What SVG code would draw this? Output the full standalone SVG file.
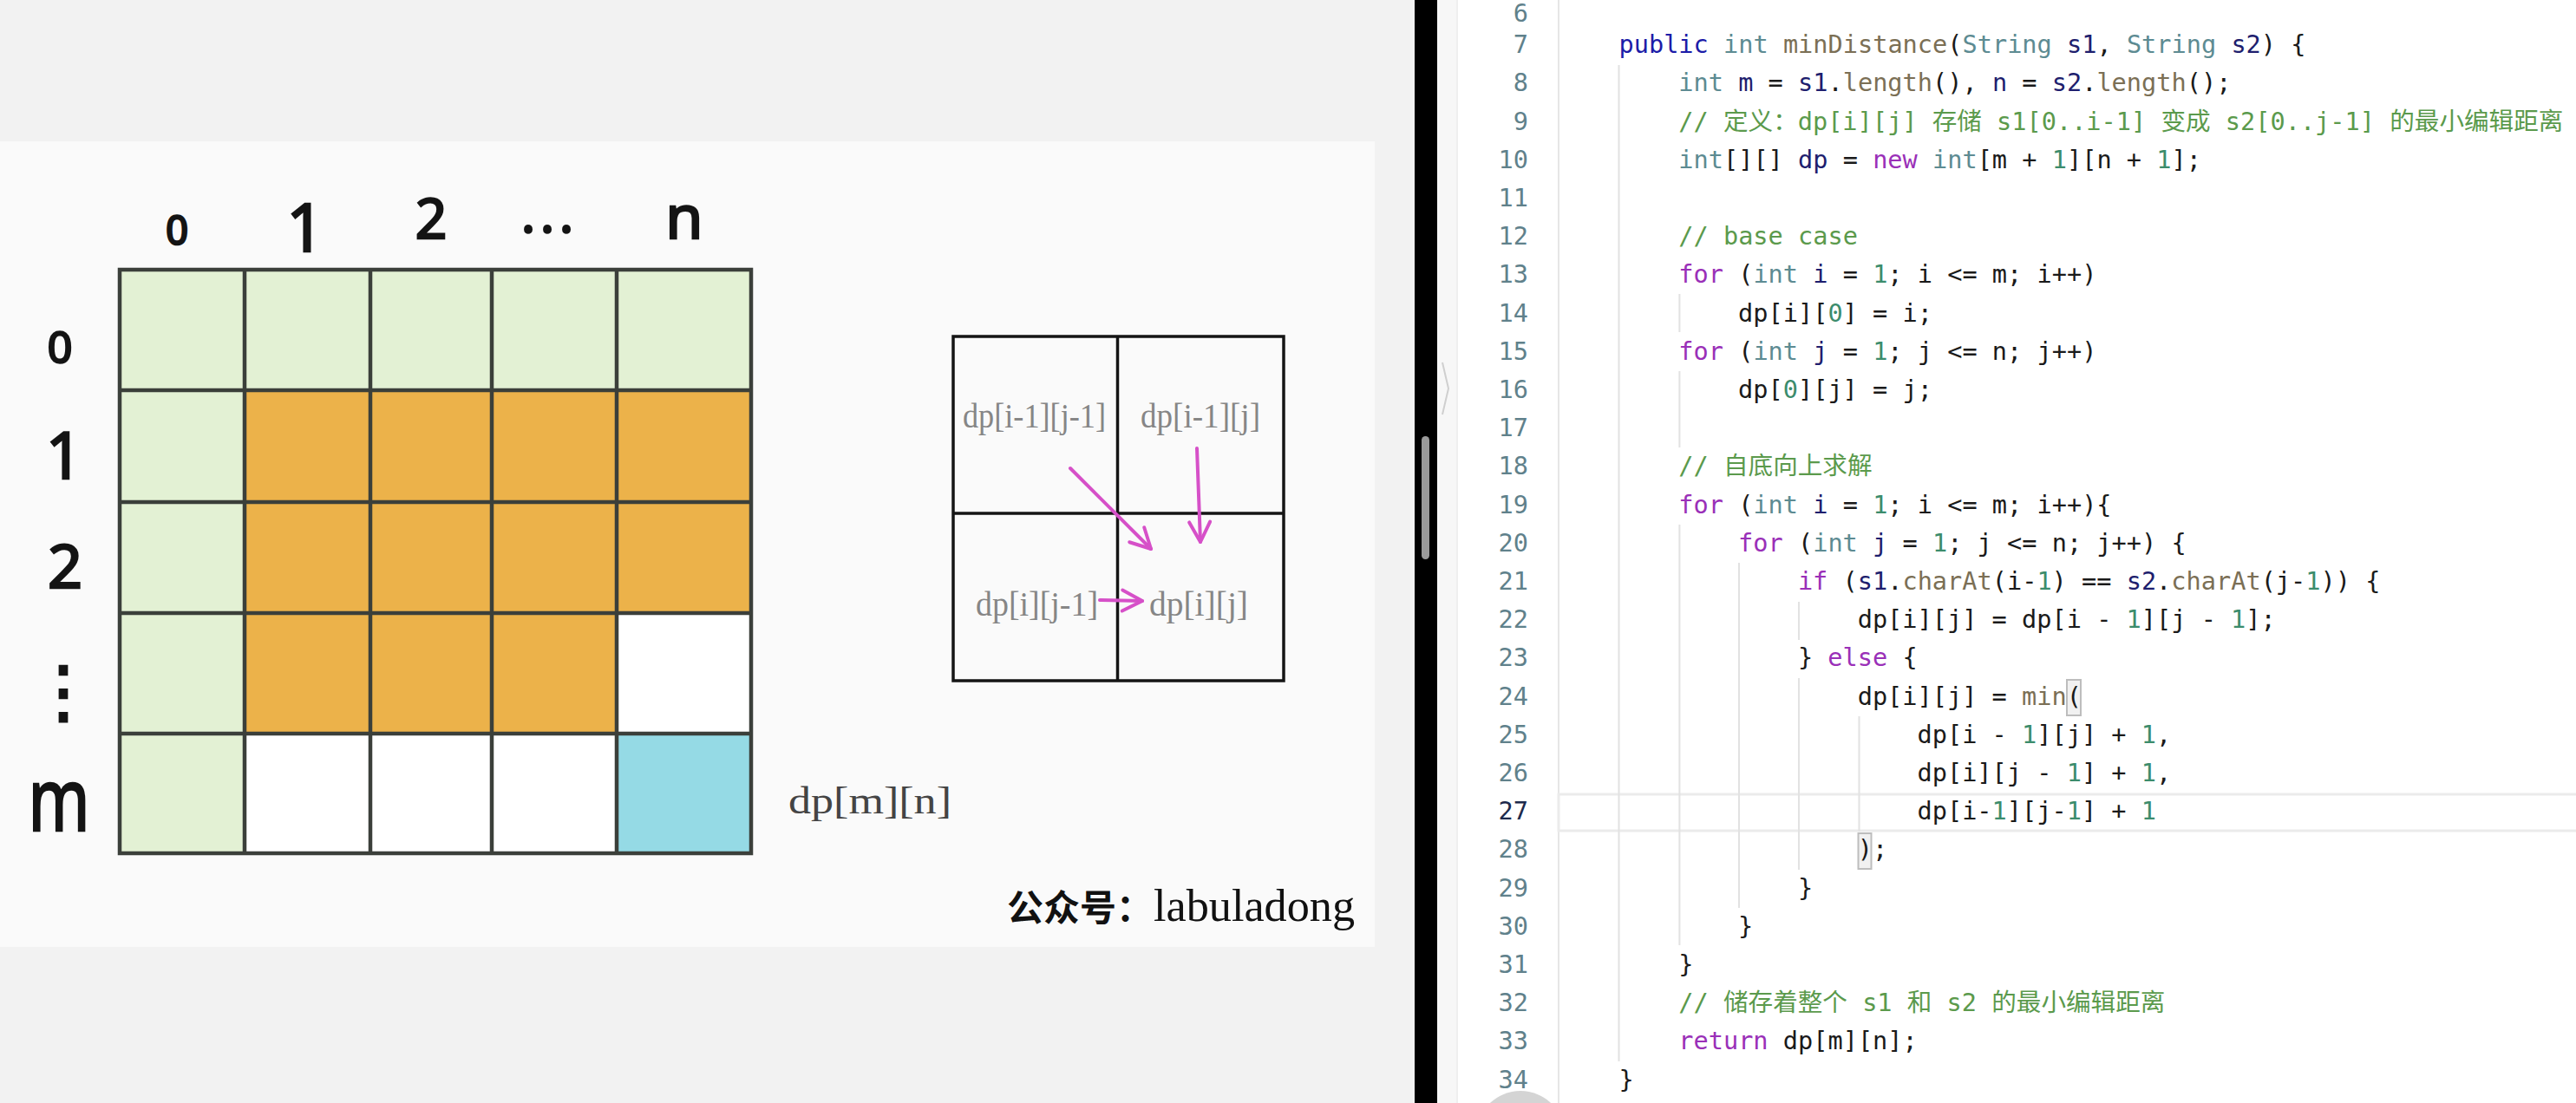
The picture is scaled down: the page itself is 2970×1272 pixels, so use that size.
<svg xmlns="http://www.w3.org/2000/svg" width="2970" height="1272" viewBox="0 0 2970 1272">
<defs>
<style>
.hand{font-family:"Noto Sans","DejaVu Sans",sans-serif;fill:#141414;stroke:#141414;stroke-width:2.5;text-anchor:middle}
.grid{stroke:#3b3f3a;stroke-width:4.5;fill:none}
.g{fill:#e3f1d4}.o{fill:#ecb24a}.w{fill:#ffffff}.c{fill:#95dae5}
.lbl{font-family:"Liberation Serif",serif;font-size:40px;fill:#868686}
.sg{stroke:#151515;stroke-width:3.5;fill:none}
.arrow{stroke:#d650c8;stroke-width:4;fill:none;stroke-linecap:round}
.code{font-family:"DejaVu Sans Mono","Noto Sans CJK SC",monospace;font-size:28.6px;fill:#1a1a1a;white-space:pre}
.ln{font-family:"DejaVu Sans Mono",monospace;font-size:28.6px;fill:#60818b;text-anchor:end}
.kw2{fill:#1c1ca8}.kw{fill:#9a30b8}.ty{fill:#5d8b92}.fn{fill:#7b6f55}.va{fill:#1e1e6e}.nu{fill:#3c8c6c}.cm{fill:#5b9a4c}
.guide{stroke:#e2e2e2;stroke-width:2}
.brk{fill:#f1f1f1;stroke:#bdbdbd;stroke-width:2}
</style>
<marker id="ah" markerUnits="userSpaceOnUse" markerWidth="32" markerHeight="32" refX="27" refY="16" orient="auto">
<path d="M4,4 L27,16 L4,28" stroke="#d650c8" stroke-width="4" fill="none" stroke-linecap="round" stroke-linejoin="round"/>
</marker>
</defs>

<!-- left panel background -->
<rect x="0" y="0" width="1631" height="1272" fill="#f2f2f2"/>
<rect x="0" y="163" width="1585" height="929" fill="#fafafa"/>

<g id="dp-table">
<rect class="g" x="138" y="311" width="728" height="139"/>
<rect class="g" x="138" y="450" width="144" height="534"/>
<rect class="o" x="282" y="450" width="584" height="257"/>
<rect class="o" x="282" y="707" width="429" height="139"/>
<rect class="w" x="711" y="707" width="155" height="139"/>
<rect class="w" x="282" y="846" width="429" height="138"/>
<rect class="c" x="711" y="846" width="155" height="138"/>
<path class="grid" d="M138,311 H866 V984 H138 Z M282,311 V984 M427,311 V984 M567,311 V984 M711,311 V984 M138,450 H866 M138,579 H866 M138,707 H866 M138,846 H866"/>
</g>

<g id="col-labels">
<text class="hand" x="204" y="282" font-size="45">0</text>
<text class="hand" x="352" y="290" font-size="76">1</text>
<text class="hand" x="497" y="275" font-size="64">2</text>
<text class="hand" x="634" y="268" font-size="60" letter-spacing="6">...</text>
<text class="hand" x="789" y="275" font-size="70">n</text>
</g>
<g id="row-labels">
<text class="hand" x="69" y="418" font-size="50">0</text>
<text class="hand" x="74" y="552" font-size="74">1</text>
<text class="hand" x="75" y="678" font-size="70">2</text>
<text class="hand" x="73" y="825" font-size="80">⋮</text>
<text class="hand" x="68" y="958" font-size="100" textLength="71" lengthAdjust="spacingAndGlyphs">m</text>
</g>

<g id="dp-mn">
<text x="909" y="938" font-family="Liberation Serif, serif" font-size="44" fill="#444" textLength="188" lengthAdjust="spacingAndGlyphs">dp[m][n]</text>
</g>

<g id="cell-diagram">
<path class="sg" d="M1099,388 H1480 V785 H1099 Z M1288.5,388 V785 M1099,592 H1480"/>
<text class="lbl" x="1110" y="493" textLength="165" lengthAdjust="spacingAndGlyphs">dp[i-1][j-1]</text>
<text class="lbl" x="1315" y="493" textLength="138" lengthAdjust="spacingAndGlyphs">dp[i-1][j]</text>
<text class="lbl" x="1125" y="710" textLength="141" lengthAdjust="spacingAndGlyphs">dp[i][j-1]</text>
<text class="lbl" x="1325" y="710" textLength="114" lengthAdjust="spacingAndGlyphs">dp[i][j]</text>
</g>

<g id="connectors">
<path class="arrow" d="M1234,540 L1327,633" marker-end="url(#ah)"/>
<path class="arrow" d="M1380,517 L1384,625" marker-end="url(#ah)"/>
<path class="arrow" d="M1268,692 L1317,693" marker-end="url(#ah)"/>
</g>

<g id="watermark">
<text x="1161" y="1062" font-family="Noto Sans CJK SC, sans-serif" font-size="42" font-weight="700" fill="#111">公众号：</text>
<text x="1330" y="1062" font-family="Liberation Serif, serif" font-size="52" fill="#111" textLength="232" lengthAdjust="spacingAndGlyphs">labuladong</text>
</g>

<!-- divider + editor -->
<g id="editor-chrome">
<rect x="1631" y="0" width="26" height="1272" fill="#000"/>
<rect x="1639" y="503" width="9" height="142" rx="4.5" fill="#9a9a9a"/>
<rect x="1657" y="0" width="23" height="1272" fill="#f7f7f7"/>
<path d="M1663,418 L1670,448 L1663,478" stroke="#cfcfcf" stroke-width="2" fill="none"/>
<rect x="1680" y="0" width="1290" height="1272" fill="#ffffff"/>
<line x1="1680" y1="0" x2="1680" y2="1272" stroke="#efefef" stroke-width="2"/>
<line x1="1797" y1="0" x2="1797" y2="1272" stroke="#e6e6e6" stroke-width="2"/>
<rect x="1797" y="916" width="1180" height="42" fill="none" stroke="#ebebeb" stroke-width="3"/>
<path class="guide" d="M1866.5,75 V1224 M1936.4,339 V383 M1936.4,428 V516 M1936.4,605 V1090 M2005,649 V1047 M2074,694 V738 M2074,782 V1003 M2143.5,826 V959"/>
<rect class="brk" x="2383" y="784" width="16" height="41"/>
<rect class="brk" x="2142.5" y="961" width="15" height="41"/>
<circle cx="1753" cy="1309" r="51" fill="#d4d4d4"/>
</g>

<g id="line-numbers">
<text class="ln" x="1762" y="25">6</text>
<text class="ln" x="1762" y="61.2">7</text>
<text class="ln" x="1762" y="105.4">8</text>
<text class="ln" x="1762" y="149.6">9</text>
<text class="ln" x="1762" y="193.8">10</text>
<text class="ln" x="1762" y="238">11</text>
<text class="ln" x="1762" y="282.2">12</text>
<text class="ln" x="1762" y="326.4">13</text>
<text class="ln" x="1762" y="370.6">14</text>
<text class="ln" x="1762" y="414.8">15</text>
<text class="ln" x="1762" y="459">16</text>
<text class="ln" x="1762" y="503.2">17</text>
<text class="ln" x="1762" y="547.4">18</text>
<text class="ln" x="1762" y="591.6">19</text>
<text class="ln" x="1762" y="635.8">20</text>
<text class="ln" x="1762" y="680">21</text>
<text class="ln" x="1762" y="724.2">22</text>
<text class="ln" x="1762" y="768.4">23</text>
<text class="ln" x="1762" y="812.6">24</text>
<text class="ln" x="1762" y="856.8">25</text>
<text class="ln" x="1762" y="901">26</text>
<text class="ln" x="1762" y="945.2" style="fill:#1d2a4c">27</text>
<text class="ln" x="1762" y="989.4">28</text>
<text class="ln" x="1762" y="1033.6">29</text>
<text class="ln" x="1762" y="1077.8">30</text>
<text class="ln" x="1762" y="1122">31</text>
<text class="ln" x="1762" y="1166.2">32</text>
<text class="ln" x="1762" y="1210.4">33</text>
<text class="ln" x="1762" y="1254.6">34</text>
</g>

<g id="code" xml:space="preserve">
<text class="code" x="1866.5" y="61.2"><tspan class="kw2">public</tspan> <tspan class="ty">int</tspan> <tspan class="fn">minDistance</tspan>(<tspan class="ty">String</tspan> <tspan class="va">s1</tspan>, <tspan class="ty">String</tspan> <tspan class="va">s2</tspan>) {</text>
<text class="code" x="1935.3" y="105.4"><tspan class="ty">int</tspan> <tspan class="va">m</tspan> = <tspan class="va">s1</tspan>.<tspan class="fn">length</tspan>(), <tspan class="va">n</tspan> = <tspan class="va">s2</tspan>.<tspan class="fn">length</tspan>();</text>
<text class="code cm" x="1935.3" y="149.6">// 定义：dp[i][j] 存储 s1[0..i-1] 变成 s2[0..j-1] 的最小编辑距离</text>
<text class="code" x="1935.3" y="193.8"><tspan class="ty">int</tspan>[][] <tspan class="va">dp</tspan> = <tspan class="kw">new</tspan> <tspan class="ty">int</tspan>[m + <tspan class="nu">1</tspan>][n + <tspan class="nu">1</tspan>];</text>
<text class="code cm" x="1935.3" y="282.2">// base case</text>
<text class="code" x="1935.3" y="326.4"><tspan class="kw">for</tspan> (<tspan class="ty">int</tspan> <tspan class="va">i</tspan> = <tspan class="nu">1</tspan>; i &lt;= m; i++)</text>
<text class="code" x="2004.1" y="370.6">dp[i][<tspan class="nu">0</tspan>] = i;</text>
<text class="code" x="1935.3" y="414.8"><tspan class="kw">for</tspan> (<tspan class="ty">int</tspan> <tspan class="va">j</tspan> = <tspan class="nu">1</tspan>; j &lt;= n; j++)</text>
<text class="code" x="2004.1" y="459">dp[<tspan class="nu">0</tspan>][j] = j;</text>
<text class="code cm" x="1935.3" y="547.4">// 自底向上求解</text>
<text class="code" x="1935.3" y="591.6"><tspan class="kw">for</tspan> (<tspan class="ty">int</tspan> <tspan class="va">i</tspan> = <tspan class="nu">1</tspan>; i &lt;= m; i++){</text>
<text class="code" x="2004.1" y="635.8"><tspan class="kw">for</tspan> (<tspan class="ty">int</tspan> <tspan class="va">j</tspan> = <tspan class="nu">1</tspan>; j &lt;= n; j++) {</text>
<text class="code" x="2072.9" y="680"><tspan class="kw">if</tspan> (<tspan class="va">s1</tspan>.<tspan class="fn">charAt</tspan>(i-<tspan class="nu">1</tspan>) == <tspan class="va">s2</tspan>.<tspan class="fn">charAt</tspan>(j-<tspan class="nu">1</tspan>)) {</text>
<text class="code" x="2141.7" y="724.2">dp[i][j] = dp[i - <tspan class="nu">1</tspan>][j - <tspan class="nu">1</tspan>];</text>
<text class="code" x="2072.9" y="768.4">} <tspan class="kw">else</tspan> {</text>
<text class="code" x="2141.7" y="812.6">dp[i][j] = <tspan class="fn">min</tspan>(</text>
<text class="code" x="2210.5" y="856.8">dp[i - <tspan class="nu">1</tspan>][j] + <tspan class="nu">1</tspan>,</text>
<text class="code" x="2210.5" y="901">dp[i][j - <tspan class="nu">1</tspan>] + <tspan class="nu">1</tspan>,</text>
<text class="code" x="2210.5" y="945.2">dp[i-<tspan class="nu">1</tspan>][j-<tspan class="nu">1</tspan>] + <tspan class="nu">1</tspan></text>
<text class="code" x="2141.7" y="989.4">);</text>
<text class="code" x="2072.9" y="1033.6">}</text>
<text class="code" x="2004.1" y="1077.8">}</text>
<text class="code" x="1935.3" y="1122">}</text>
<text class="code cm" x="1935.3" y="1166.2">// 储存着整个 s1 和 s2 的最小编辑距离</text>
<text class="code" x="1935.3" y="1210.4"><tspan class="kw">return</tspan> dp[m][n];</text>
<text class="code" x="1866.5" y="1254.6">}</text>
</g>
</svg>
